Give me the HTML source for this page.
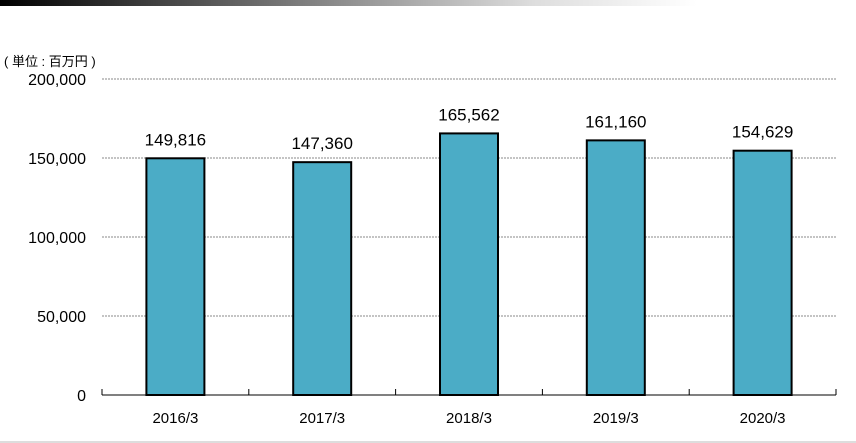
<!DOCTYPE html>
<html><head><meta charset="utf-8"><style>
body{margin:0;background:#fff;width:856px;height:443px;overflow:hidden;font-family:"Liberation Sans","Noto Sans CJK JP",sans-serif;}
</style></head><body>
<div style="position:absolute;left:0;top:0;width:820px;height:6px;background:linear-gradient(90deg,#000,#555 25%,#999 45%,#ddd 65%,#fff 85%,#fff)"></div>
<div style="position:absolute;left:0;top:441px;width:856px;height:2px;background:#ddd"></div>
<svg id="c" width="856" height="443" style="position:absolute;left:0;top:0"></svg>
<script>
const categories=["2016/3","2017/3","2018/3","2019/3","2020/3"];
const values=[149816,147360,165562,161160,154629];
const valueLabels=["149,816","147,360","165,562","161,160","154,629"];
const ticks=[0,50000,100000,150000,200000];
const tickLabels=["0","50,000","100,000","150,000","200,000"];
const svg=document.getElementById('c');const NS="http://www.w3.org/2000/svg";
const x0=102,x1=836,yBase=395,yTop=79,yMax=200000;
const y=v=>yBase-(v/yMax)*(yBase-yTop);
const bw=(x1-x0)/categories.length;
const xc=i=>x0+bw*(i+0.5);
function mk(t,a,txt){const e=document.createElementNS(NS,t);for(const k in a)e.setAttribute(k,a[k]);if(txt!=null)e.textContent=txt;svg.appendChild(e);return e;}
let u=mk('text',{x:4,y:66,'font-size':13,fill:'#000'},'( 単位 : 百万円 )');


ticks.forEach((t,i)=>{
 if(t>0){const g=mk('line',{x1:x0,x2:x1,y1:y(t),y2:y(t),stroke:'#888','stroke-dasharray':'2,1','stroke-width':1});
 
 }
 const l=mk('text',{x:86,y:y(t)+6,'text-anchor':'end','font-size':16,fill:'#000'},tickLabels[i]);
 
 
});
values.forEach((v,i)=>{
 const r=mk('rect',{x:xc(i)-29,y:y(v),width:58,height:yBase-y(v),fill:'#4BACC6',stroke:'#000','stroke-width':2});
 
 
 const t=mk('text',{x:xc(i),y:y(v)-13,'text-anchor':'middle','font-size':17,fill:'#000'},valueLabels[i]);
 
 
 const c=mk('text',{x:xc(i),y:423,'text-anchor':'middle','font-size':15,fill:'#000'},categories[i]);
 
 
});
const ax=mk('line',{x1:x0,x2:x1,y1:yBase,y2:yBase,stroke:'#000','stroke-width':1});


for(let i=0;i<=categories.length;i++){
 const tk=mk('line',{x1:x0+bw*i,x2:x0+bw*i,y1:yBase-6,y2:yBase,stroke:'#000','stroke-width':1});
 
 
}
</script>
</body></html>
